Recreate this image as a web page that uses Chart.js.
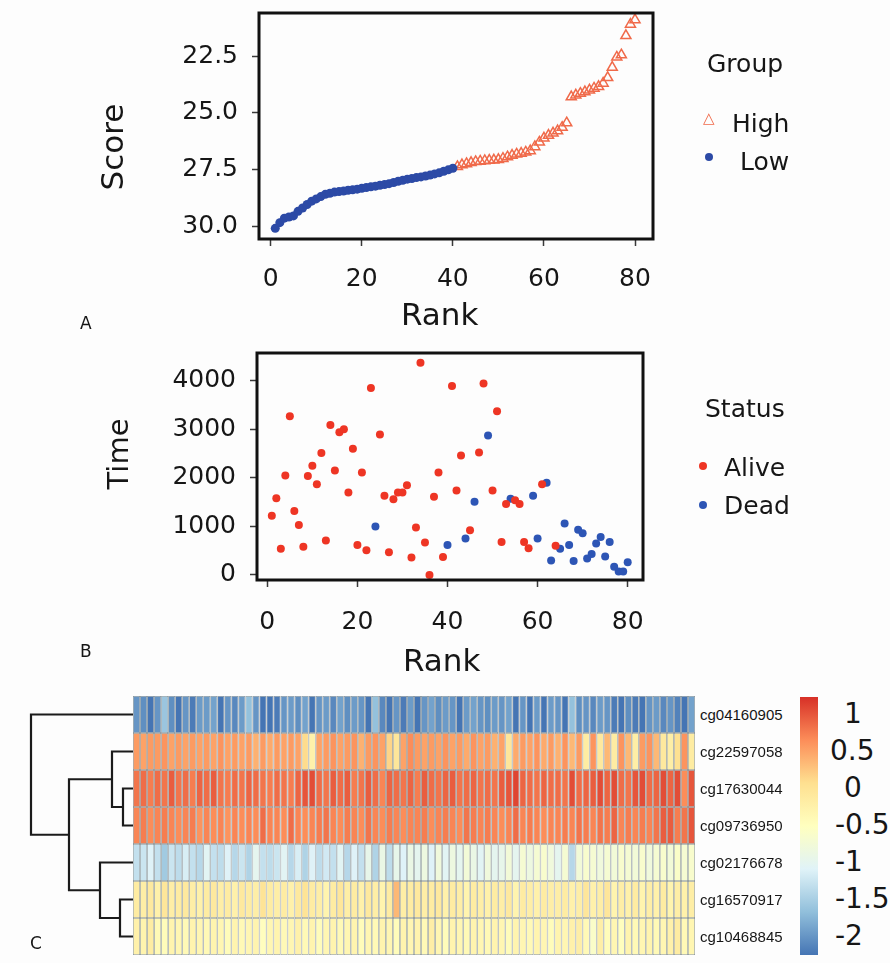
<!DOCTYPE html>
<html>
<head>
<meta charset="utf-8">
<script src="https://cdn.jsdelivr.net/npm/chart.js@4.4.1/dist/chart.umd.min.js"></script>
<style>
  body { margin: 0; background: #fdfdfd; }
  #page { position: relative; width: 890px; height: 963px; background: #fdfdfd; overflow: hidden;
          font-family: 'DejaVu Sans', sans-serif; color: #161616; }
  canvas { position: absolute; }
  .txt { position: absolute; white-space: nowrap; line-height: 1; }
  .rot { transform: translate(-50%, -50%) rotate(-90deg); }
  .dot { position: absolute; border-radius: 50%; }
</style>
</head>
<body>
<div id="page">
  <canvas id="scoreChart" width="890" height="335" style="left:0;top:0"></canvas>
  <canvas id="timeChart" width="890" height="345" style="left:0;top:335px"></canvas>
  <canvas id="dendro" width="109" height="259" style="left:25px;top:696px"></canvas>
  <canvas id="heat" width="562" height="259" style="left:133px;top:696px"></canvas>

  <div class="txt rot" style="left:112px;top:147px;font-size:31px">Score</div>
  <div class="txt" style="left:401px;top:299px;font-size:31px">Rank</div>
  <div class="txt" style="left:80px;top:315px;font-size:17px">A</div>
  <div class="txt" style="left:707px;top:51px;font-size:25px">Group</div>
  <div class="txt" style="left:703px;top:111px;font-size:15px;color:#f06a4a">&#9651;</div>
  <div class="txt" style="left:732px;top:111px;font-size:25px">High</div>
  <div class="dot" style="left:705px;top:153px;width:8px;height:8px;background:#2c4aa6"></div>
  <div class="txt" style="left:740px;top:149px;font-size:25px">Low</div>

  <div class="txt rot" style="left:118px;top:454px;font-size:29px">Time</div>
  <div class="txt" style="left:403px;top:645px;font-size:31px">Rank</div>
  <div class="txt" style="left:80px;top:643px;font-size:17px">B</div>
  <div class="txt" style="left:705px;top:396px;font-size:25px">Status</div>
  <div class="dot" style="left:699px;top:462px;width:8px;height:8px;background:#ee3524"></div>
  <div class="txt" style="left:724px;top:455px;font-size:25px">Alive</div>
  <div class="dot" style="left:699px;top:501px;width:8px;height:8px;background:#2d55b5"></div>
  <div class="txt" style="left:724px;top:493px;font-size:25px">Dead</div>

  <div class="txt" style="left:30px;top:935px;font-size:17px">C</div>
  <div id="colorbar" style="position:absolute;left:800px;top:697px;width:18px;height:258px"></div>
</div>
<script>
// panel A: risk score by rank
const scoreTicks = [22.5, 25, 27.5, 30];
const rankTicks = [0, 20, 40, 60, 80];
const lowScore = [30.1, 29.85, 29.65, 29.6, 29.55, 29.35, 29.2, 29.05, 28.9, 28.8,
    28.7, 28.6, 28.55, 28.5, 28.48, 28.45, 28.42, 28.4, 28.37, 28.33,
    28.3, 28.27, 28.24, 28.2, 28.17, 28.13, 28.08, 28.02, 27.98, 27.93,
    27.9, 27.86, 27.83, 27.79, 27.75, 27.7, 27.65, 27.58, 27.52, 27.45];
const highScore = [27.38, 27.3, 27.25, 27.2, 27.16, 27.14, 27.12, 27.1, 27.09, 27.07,
    27.02, 26.95, 26.88, 26.83, 26.79, 26.74, 26.68, 26.5, 26.3, 26.12,
    26.0, 25.9, 25.8, 25.65, 25.45, 24.3, 24.22, 24.15, 24.08, 24.0,
    23.92, 23.85, 23.7, 23.45, 23.0, 22.55, 22.45, 21.6, 21.1, 20.9];

// panel B: survival time by rank
const timeTicks = [0, 1000, 2000, 3000, 4000];
const timeVals = [1220, 1580, 540, 2050, 3270, 1320, 1030, 580, 2040, 2250,
    1870, 2510, 710, 3090, 2150, 2940, 3000, 1700, 2600, 620,
    2110, 510, 3850, 1000, 2890, 1630, 470, 1560, 1700, 1700,
    1850, 360, 980, 4370, 670, 0, 1610, 2110, 370, 620,
    3890, 1740, 2460, 750, 920, 1510, 2520, 3940, 2870, 1740,
    3370, 680, 1460, 1570, 1540, 1460, 680, 550, 1630, 750,
    1870, 1900, 300, 600, 540, 1060, 620, 290, 930, 860,
    340, 430, 650, 780, 380, 680, 170, 70, 70, 260];
const deadRanks = [24, 40, 44, 46, 49, 54, 59, 60, 62, 63, 65, 66, 67, 68, 69, 70, 71, 72, 73, 74, 75, 76, 77, 78, 79, 80];

// panel C: heatmap
const geneNames = ['cg04160905', 'cg22597058', 'cg17630044', 'cg09736950', 'cg02176678', 'cg16570917', 'cg10468845'];
const heatRows = [
  [-2.0,-2.05,-2.3,-2.0,-1.6,-2.05,-2.25,-2.0,-2.2,-1.95, -1.95,-1.9,-2.3,-2.0,-2.1,-1.95,-1.65,-2.0,-2.25,-2.3,
   -2.2,-2.0,-1.95,-2.05,-1.9,-2.35,-2.0,-1.95,-2.1,-1.9, -2.05,-1.95,-2.0,-2.25,-1.65,-2.1,-2.45,-2.0,-2.2,-1.95,
   -2.35,-2.0,-1.9,-2.05,-1.95,-2.0,-2.35,-1.95,-1.9,-2.0, -2.05,-1.95,-2.0,-1.9,-2.35,-2.0,-2.4,-1.95,-2.3,-1.95,
   -2.0,-2.25,-1.65,-2.05,-2.0,-2.1,-1.95,-2.0,-2.2,-2.25, -2.05,-2.2,-2.3,-2.0,-1.95,-2.1,-2.0,-2.15,-2.3,-1.9],
  [0.55,0.5,0.55,0.55,0.6,0.5,0.55,0.5,0.55,0.5, 0.55,0.5,0.6,0.5,0.55,0.5,0.55,0.4,0.55,0.45,
   0.55,0.5,0.55,0.5,0.1,-0.25,0.5,0.55,0.6,0.5, 0.55,0.6,0.4,0.55,0.6,0.5,0.15,-0.05,0.5,0.65,
   0.55,0.5,0.55,0.5,0.6,0.5,0.55,0.45,0.6,0.5, 0.55,0.4,0.5,-0.05,0.45,0.55,0.5,0.6,0.45,0.55,
   0.4,0.6,0.35,0.55,-0.15,0.6,-0.1,0.35,-0.15,0.6, 0.35,-0.2,0.55,0.6,0.35,-0.1,-0.2,0.05,0.6,-0.15],
  [0.8,0.85,0.75,0.85,0.8,0.95,0.8,0.85,0.75,0.9, 0.85,0.95,0.8,0.75,0.85,0.8,0.9,0.85,0.8,0.75,
   0.85,0.8,0.75,0.9,1.0,1.05,0.85,0.8,0.95,0.85, 0.95,0.75,0.8,0.95,0.85,0.7,0.9,0.85,0.8,0.9,
   0.75,0.95,0.85,0.8,0.9,0.95,0.8,0.85,0.9,0.8, 0.85,0.8,0.95,1.0,1.1,0.9,0.85,0.8,0.9,0.85,
   0.85,0.8,1.05,0.85,0.9,0.95,1.05,0.9,1.05,0.85, 0.8,1.0,1.05,0.85,0.9,1.05,0.9,1.05,0.65,1.0],
  [0.7,0.75,0.65,0.7,0.75,0.7,0.65,0.7,0.75,0.6, 0.7,0.65,0.7,0.6,0.7,0.65,0.7,0.65,0.85,0.7,
   0.7,0.65,0.85,0.7,0.65,0.7,0.75,0.8,0.7,0.65, 0.75,0.7,0.65,0.8,0.7,0.65,0.75,0.7,0.65,0.7,
   0.7,0.75,0.65,0.7,0.75,0.7,0.65,0.8,0.75,0.7, 0.75,0.7,0.65,0.7,0.85,0.7,0.75,0.7,0.65,0.7,
   0.7,0.75,0.7,0.8,0.75,0.7,0.8,0.75,0.9,0.7, 0.75,0.7,0.75,0.7,0.8,0.95,0.95,0.75,0.8,1.0],
  [-1.3,-1.25,-1.1,-1.3,-1.55,-1.25,-1.35,-1.15,-1.3,-1.4, -1.05,-1.3,-1.35,-1.1,-1.4,-1.25,-1.45,-1.0,-1.3,-1.35,
   -1.25,-1.05,-1.4,-1.15,-1.45,-1.1,-1.35,-1.2,-1.3,-1.05, -1.4,-1.1,-1.3,-0.95,-1.45,-0.9,-1.35,-0.95,-1.1,-0.9,
   -1.0,-0.85,-1.1,-0.8,-1.05,-0.85,-1.0,-0.75,-0.9,-1.05, -0.8,-1.0,-0.95,-0.75,-1.0,-0.7,-0.85,-0.7,-0.65,-0.8,
   -1.0,-0.7,-1.4,-0.75,-0.65,-0.7,-0.8,-0.7,-0.75,-0.65, -0.7,-0.75,-0.65,-0.8,-0.7,-0.65,-0.75,-0.6,-0.7,-0.65],
  [-0.15,-0.2,-0.1,-0.25,-0.05,-0.2,-0.15,-0.1,-0.2,-0.25, -0.15,-0.1,-0.2,-0.15,-0.25,-0.1,-0.15,-0.2,0.0,-0.15,
   -0.2,-0.15,-0.25,-0.1,0.0,-0.15,-0.2,-0.3,-0.15,-0.05, -0.2,-0.15,-0.25,-0.1,-0.2,-0.3,-0.15,0.35,-0.2,-0.15,
   -0.1,-0.2,-0.15,-0.1,-0.25,-0.15,-0.2,-0.3,-0.15,-0.2, -0.25,-0.15,-0.2,-0.1,-0.3,-0.15,-0.2,-0.25,-0.15,-0.2,
   -0.2,-0.15,-0.25,-0.2,-0.05,-0.25,-0.2,-0.05,-0.3,-0.2, -0.25,-0.15,-0.3,-0.2,-0.25,-0.15,-0.3,-0.2,-0.25,-0.2],
  [-0.25,-0.3,-0.15,-0.4,-0.45,-0.3,-0.35,-0.4,-0.3,-0.35, -0.4,-0.3,-0.35,-0.45,-0.3,-0.4,-0.35,-0.3,-0.5,-0.35,
   -0.3,-0.4,-0.35,-0.25,-0.4,-0.3,-0.45,-0.35,-0.3,-0.4, -0.35,-0.3,-0.45,-0.35,-0.4,-0.3,-0.35,-0.45,-0.3,-0.35,
   -0.3,-0.4,-0.2,-0.35,-0.45,-0.3,-0.35,-0.4,-0.3,-0.35, -0.4,-0.3,-0.35,-0.45,-0.3,-0.35,-0.4,-0.3,-0.35,-0.45,
   -0.3,-0.35,-0.25,-0.2,-0.4,-0.6,-0.2,-0.45,-0.35,-0.5, -0.3,-0.4,-0.35,-0.3,-0.4,-0.35,-0.25,-0.15,-0.4,-0.35]
];
const heatMin = -2.25, heatMax = 1.23;
const colorbarTicks = [1, 0.5, 0, -0.5, -1, -1.5, -2];
// dendrogram, R hclust style: negative = leaf row, positive = earlier merge
const merges = [[-3, -4], [-6, -7], [-2, 1], [-5, 2], [3, 4], [-1, 5]];
const mergeHeights = [10, 13, 21, 33, 64, 102];

const palette = ['#4575B4', '#91BFDB', '#E0F3F8', '#FFFFBF', '#FEE090', '#FC8D59', '#D73027'];

Chart.defaults.font.family = "'DejaVu Sans', sans-serif";
Chart.defaults.color = '#161616';

function hexRgb(h) {
    return [1, 3, 5].map(i => parseInt(h.slice(i, i + 2), 16));
}
function heatColor(v) {
    let t = (v - heatMin) / (heatMax - heatMin);
    t = Math.min(1, Math.max(0, t)) * (palette.length - 1);
    const i = Math.min(Math.floor(t), palette.length - 2);
    const f = t - i;
    const a = hexRgb(palette[i]), b = hexRgb(palette[i + 1]);
    const c = a.map((x, k) => Math.round(x + (b[k] - x) * f));
    return `rgb(${c[0]},${c[1]},${c[2]})`;
}

// thick black frame round the plot area
const frameBox = {
    id: 'frameBox',
    afterDatasetsDraw(chart) {
        const {ctx, chartArea: a} = chart;
        ctx.save();
        ctx.lineWidth = 3;
        ctx.strokeStyle = '#111';
        ctx.strokeRect(a.left, a.top, a.right - a.left, a.bottom - a.top);
        ctx.restore();
    }
};

function axisOpts(ticks, pad, extra) {
    return Object.assign({
        type: 'linear',
        afterBuildTicks: axis => { axis.ticks = ticks.map(v => ({value: v})); },
        grid: {drawOnChartArea: false, tickLength: 7, tickWidth: 1.5, tickColor: '#3a3a3a'},
        border: {display: false},
        ticks: {padding: pad, color: '#161616', font: {size: 25}, callback: v => String(v)},
    }, extra);
}

new Chart(document.getElementById('scoreChart'), {
    type: 'scatter',
    data: {
        datasets: [{
            label: 'Low',
            data: lowScore.map((s, i) => ({x: i + 1, y: s})),
            pointStyle: 'circle',
            pointRadius: 4.5,
            backgroundColor: '#2c4aa6',
            borderWidth: 0,
        }, {
            label: 'High',
            data: highScore.map((s, i) => ({x: lowScore.length + i + 1, y: s})),
            pointStyle: 'triangle',
            pointRadius: 5.8,
            borderColor: '#f06a4a',
            borderWidth: 1.5,
            backgroundColor: 'rgba(255,255,255,0)',
        }]
    },
    options: {
        responsive: false,
        animation: false,
        events: [],
        layout: {padding: {top: 13, right: 237, bottom: 0, left: 0}},
        plugins: {legend: {display: false}, tooltip: {enabled: false}},
        scales: {
            x: axisOpts(rankTicks, 18, {
                min: -2.57, max: 83.95,
                afterFit: axis => { axis.height = 96; axis.paddingLeft = 0; axis.paddingRight = 0; },
            }),
            y: axisOpts(scoreTicks, 14, {
                reverse: true, min: 20.6, max: 30.57,
                afterFit: axis => { axis.width = 259; axis.paddingTop = 0; axis.paddingBottom = 0; },
                ticks: {padding: 14, color: '#161616', font: {size: 25}, callback: v => v.toFixed(1)},
            }),
        },
    },
    plugins: [frameBox],
});

const alivePts = [], deadPts = [];
timeVals.forEach((t, i) => {
    const pt = {x: i + 1, y: t};
    if (deadRanks.includes(i + 1)) deadPts.push(pt); else alivePts.push(pt);
});

new Chart(document.getElementById('timeChart'), {
    type: 'scatter',
    data: {
        datasets: [{
            label: 'Alive',
            data: alivePts,
            pointRadius: 4,
            backgroundColor: '#ee3524',
            borderWidth: 0,
        }, {
            label: 'Dead',
            data: deadPts,
            pointRadius: 4,
            backgroundColor: '#2d55b5',
            borderWidth: 0,
        }]
    },
    options: {
        responsive: false,
        animation: false,
        events: [],
        layout: {padding: {top: 18, right: 247, bottom: 0, left: 0}},
        plugins: {legend: {display: false}, tooltip: {enabled: false}},
        scales: {
            x: axisOpts(rankTicks, 20, {
                min: -2.29, max: 83.4,
                afterFit: axis => { axis.height = 100; axis.paddingLeft = 0; axis.paddingRight = 0; },
            }),
            y: axisOpts(timeTicks, 14, {
                min: -103, max: 4570,
                afterFit: axis => { axis.width = 257; axis.paddingTop = 0; axis.paddingBottom = 0; },
            }),
        },
    },
    plugins: [frameBox],
});

// dendrogram links drawn as elbow lines
const nodePos = [];
function childPos(c) {
    return c < 0 ? {h: 0, y: -c - 1} : nodePos[c - 1];
}
const linkSets = merges.map((m, k) => {
    const a = childPos(m[0]), b = childPos(m[1]), h = mergeHeights[k];
    nodePos.push({h: h, y: (a.y + b.y) / 2});
    return {
        data: [{x: a.h, y: a.y}, {x: h, y: a.y}, {x: h, y: b.y}, {x: b.h, y: b.y}],
        showLine: true,
        borderColor: '#1b1b1b',
        borderWidth: 2.2,
        pointRadius: 0,
        clip: false,
    };
});

new Chart(document.getElementById('dendro'), {
    type: 'scatter',
    data: {datasets: linkSets},
    options: {
        responsive: false,
        animation: false,
        events: [],
        layout: {padding: {top: 0, right: 1, bottom: 0, left: 6}},
        plugins: {legend: {display: false}, tooltip: {enabled: false}},
        scales: {
            x: {type: 'linear', display: false, reverse: true, min: 0, max: mergeHeights[mergeHeights.length - 1]},
            y: {type: 'linear', display: false, reverse: true, min: -0.5, max: geneNames.length - 0.5},
        },
    },
});

new Chart(document.getElementById('heat'), {
    type: 'bar',
    data: {
        labels: heatRows[0].map((_, i) => i + 1),
        datasets: geneNames.map((g, r) => ({
            label: g,
            data: heatRows[r].map(() => [r, r + 1]),
            backgroundColor: heatRows[r].map(heatColor),
            borderColor: '#8a9599',
            borderWidth: 0.75,
            borderSkipped: false,
            inflateAmount: 0,
            categoryPercentage: 1,
            barPercentage: 1,
        }))
    },
    options: {
        responsive: false,
        animation: false,
        events: [],
        plugins: {legend: {display: false}, tooltip: {enabled: false}},
        scales: {
            x: {display: false, stacked: true},
            y: {display: false, stacked: false, min: 0, max: geneNames.length, reverse: true},
        },
    },
});

// row labels, colour bar and its labels
const page = document.getElementById('page');
geneNames.forEach((g, r) => {
    const d = document.createElement('div');
    d.className = 'txt';
    d.style.cssText = `left:700px;top:${696 + 37 * r + 18.5 - 8}px;font-size:15px;font-family:'Liberation Sans',sans-serif`;
    d.textContent = g;
    page.appendChild(d);
});
document.getElementById('colorbar').style.background =
    'linear-gradient(to bottom, ' + palette.slice().reverse().join(', ') + ')';
colorbarTicks.forEach(v => {
    const d = document.createElement('div');
    const s = String(v);
    const y = 697 + (heatMax - v) / (heatMax - heatMin) * 258;
    const left = s[0] === '-' ? 835 : (s.length === 1 ? 844 : 830);
    d.className = 'txt';
    d.style.cssText = `left:${left}px;top:${y - 14}px;font-size:28px`;
    d.textContent = s;
    page.appendChild(d);
});
</script>
</body>
</html>
